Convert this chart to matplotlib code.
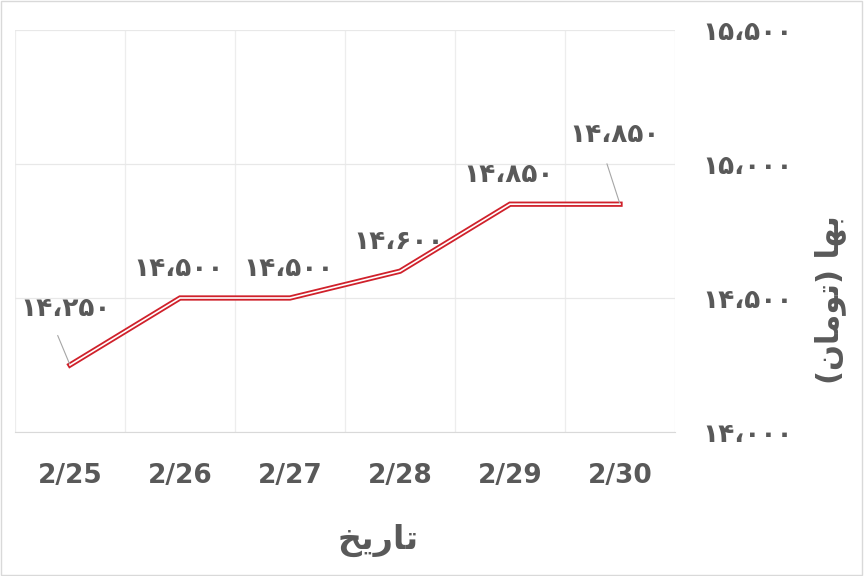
import matplotlib
matplotlib.use("Agg")
import matplotlib.pyplot as plt

# data
dates = ["2/25", "2/26", "2/27", "2/28", "2/29", "2/30"]
prices = [14250, 14500, 14500, 14600, 14850, 14850]
y_ticks = [14000, 14500, 15000, 15500]

FA_DIGITS = str.maketrans("0123456789", "۰۱۲۳۴۵۶۷۸۹")


def fa_num(v):
    return f"{v:,}".replace(",", "،").translate(FA_DIGITS)


# pre-shaped Persian text (presentation forms, visual order)
x_title = "\uFEA6\uFBFE\uFEAD\uFE8E\uFE97"  # تاریخ
y_title = "(\uFEE5\uFE8E\uFEE3\uFEEE\uFE97) \uFE8E\uFEEC\uFE91"  # بها (تومان)

grey = "#595959"
red = "#D0212B"

plt.rcParams["font.family"] = ["DejaVu Sans"]

fig = plt.figure(figsize=(8.64, 5.76), dpi=100)
ax = fig.add_axes([15 / 864, 1 - 432 / 576, 660 / 864, 402 / 576])

x = list(range(len(dates)))
ax.plot(x, prices, color=red, lw=3.8, solid_joinstyle="miter", zorder=3)
ax.plot(x, prices, color="white", lw=1.2, solid_joinstyle="miter", zorder=4)

ax.set_xlim(-0.5, len(dates) - 0.5)
ax.set_ylim(14000, 15500)
ax.set_xticks(x)
ax.set_xticklabels(dates, fontsize=19, fontweight="bold", color=grey)
ax.set_xticks([i - 0.5 for i in range(len(dates) + 1)], minor=True)
ax.set_yticks(y_ticks)
ax.set_yticklabels([fa_num(v) for v in y_ticks], fontsize=19, fontweight="bold",
                   color=grey, ha="left")
ax.yaxis.tick_right()
ax.tick_params(axis="y", length=0, pad=20)
ax.tick_params(axis="x", which="both", length=0, pad=22)
ax.grid(axis="y", color="#E8E8E8", lw=0.9)
ax.grid(axis="x", which="minor", color="#EDEDED", lw=0.9)
for s in ["top", "left", "right"]:
    ax.spines[s].set_visible(False)
ax.spines["bottom"].set_color("#D9D9D9")

# data labels
lbl = dict(ha="center", va="center", fontsize=19, fontweight="bold", color=grey)
for i, v in enumerate(prices):
    if i == 0:
        ax.annotate(fa_num(v), (i, v), xytext=(-3, 40), textcoords="offset points",
                    arrowprops=dict(arrowstyle="-", color="#A6A6A6", lw=0.8,
                                    relpos=(0.35, 0), shrinkA=8, shrinkB=0), **lbl)
    elif i == len(prices) - 1:
        ax.annotate(fa_num(v), (i, v), xytext=(-4, 50), textcoords="offset points",
                    arrowprops=dict(arrowstyle="-", color="#A6A6A6", lw=0.8,
                                    relpos=(0.36, 0), shrinkA=10, shrinkB=0), **lbl)
    else:
        ax.annotate(fa_num(v), (i, v), xytext=(-1, 21), textcoords="offset points", **lbl)

fig.text(378 / 864, 1 - 540 / 576, x_title, fontsize=24, fontweight="bold",
         color=grey, ha="center", va="center")
fig.text(830 / 864, 1 - 300 / 576, y_title, fontsize=22, fontweight="bold",
         color=grey, ha="center", va="center", rotation=90)

# thin frame around the picture
fig.patches.append(plt.Rectangle((0.001, 0.001), 0.997, 0.997, transform=fig.transFigure,
                                 fill=False, ec="#D9D9D9", lw=1))

fig.savefig("out.png", dpi=100)
